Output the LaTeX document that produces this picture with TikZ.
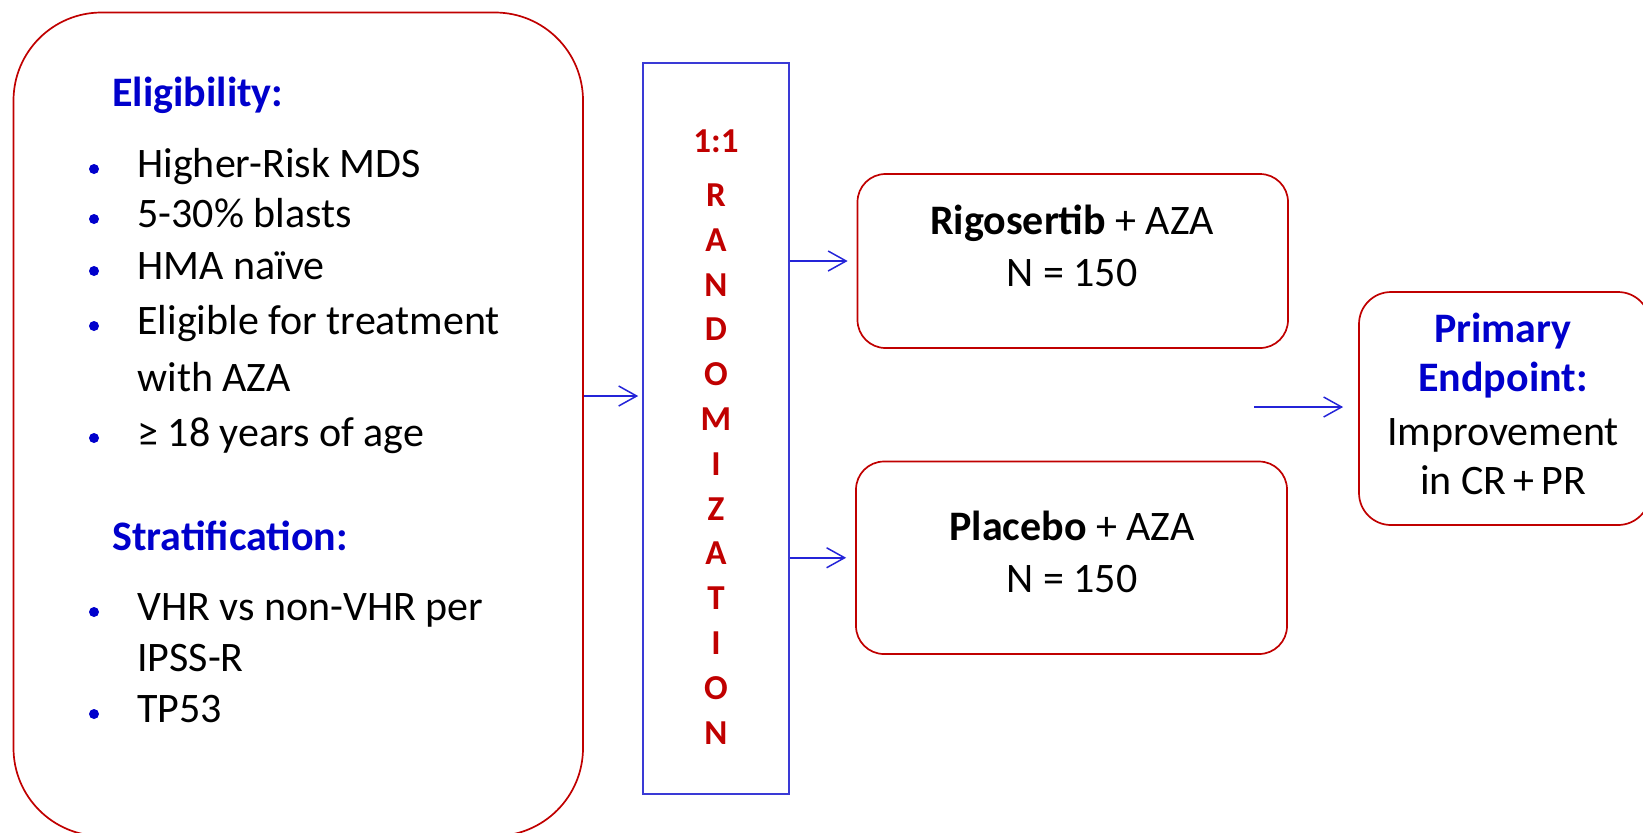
\documentclass[tikz,border=0pt]{standalone}
\usepackage{fontspec}
\setmainfont{Carlito}
\usetikzlibrary{arrows.meta}
\definecolor{boxred}{HTML}{C00000}
\definecolor{headblue}{HTML}{0000CC}
\definecolor{lineblue}{HTML}{2424D8}
\definecolor{randblue}{HTML}{3A3AD6}
\definecolor{letred}{HTML}{C00000}
\begin{document}
\begin{tikzpicture}[x=0.5pt,y=-0.5pt,
  redbox/.style={draw=boxred, line width=0.85pt, rounded corners=#1, inner sep=0pt},
  randbox/.style={draw=randblue, line width=0.8pt, inner sep=0pt},
  flow/.style={draw=lineblue, line width=0.75pt,
    -{Straight Barb[length=9pt,width=10pt,line width=0.75pt]}},
  body/.style={inner sep=0pt, anchor=base west, font=\fontsize{21}{25}\selectfont},
  head/.style={inner sep=0pt, anchor=base west, text=headblue,
    font=\fontsize{21}{25}\selectfont\bfseries},
  cbody/.style={inner sep=0pt, anchor=base, font=\fontsize{21}{25}\selectfont},
  chead/.style={inner sep=0pt, anchor=base, text=headblue,
    font=\fontsize{21}{25}\selectfont\bfseries},
  letter/.style={inner sep=0pt, anchor=base, text=letred,
    font=\fontsize{17.5}{20}\selectfont\bfseries},
  dot/.style={fill=headblue}
]
\useasboundingbox (0,0) rectangle (1643,832);

% ---- boxes ----
\node[redbox=44pt, minimum width=284.75pt, minimum height=411.75pt] (elig) at (298.25,424.25) {};
\node[randbox, minimum width=73pt, minimum height=365.5pt] (rand) at (716,428.5) {};
\node[redbox=14pt, minimum width=215.25pt, minimum height=87pt] (rigo) at (1072.75,261) {};
\node[redbox=14pt, minimum width=215.5pt, minimum height=96.25pt] (plac) at (1071.5,557.75) {};
\node[redbox=16pt, minimum width=145.5pt, minimum height=116.5pt] (endpt) at (1504.5,408.5) {};

% ---- eligibility and stratification lists ----
\node[head] (hElig) at (112,106) {Eligibility:};
\node[body] (e1) at (137,177) {Higher-Risk MDS};
\node[body] (e2) at (137,227) {5-30\% blasts};
\node[body] (e3) at (137,279) {HMA naïve};
\node[body] (e4) at (137,334) {Eligible for treatment};
\node[body] (e4b) at (137,391) {with AZA};
\node[body] (e5) at (137,446) {≥ 18 years of age};
\node[head] (hStrat) at (112,550) {Stratification:};
\node[body] (s1) at (137,620) {VHR vs non-VHR per};
\node[body] (s1b) at (137,671) {IPSS-R};
\node[body] (s2) at (137,722) {TP53};
\foreach \b in {177,227,279,334,446,620,722}
  \fill[dot] (94,\b-8) circle (2.5pt);

% ---- randomization column ----
\node[letter] (ratio) at (716,152) {1:1};
\foreach \ch [count=\k from 0] in {R,A,N,D,O,M,I,Z,A,T,I,O,N}
  \node[letter] (let\k) at (716,{206.5+44.8*\k}) {\ch};

% ---- treatment arms ----
\node[cbody] (rigoA) at (1072,234) {\textbf{Rigosertib} + AZA};
\node[cbody] (rigoN) at (1072,286) {N = 150};
\node[cbody] (placA) at (1072,540) {\textbf{Placebo} + AZA};
\node[cbody] (placN) at (1072,592) {N = 150};

% ---- endpoint ----
\node[chead] (ep1) at (1503,342) {Primary};
\node[chead] (ep2) at (1503,391) {Endpoint:};
\node[cbody] (ep3) at (1503,445) {Improvement};
\node[cbody] (ep4) at (1503,494) {in CR\,+\,PR};

% ---- connectors ----
\coordinate (lefty) at (0,396);
\draw[flow, shorten >=2pt] (elig.east |- lefty) -- (rand.west |- lefty);
\draw[flow, shorten >=4.5pt] (rand.east |- rigo.west) -- (rigo.west);
\draw[flow, shorten >=4.5pt] (rand.east |- plac.west) -- (plac.west);
\coordinate (epstart) at (1254,407);
\draw[flow, shorten >=7.5pt] (epstart) -- (endpt.west |- epstart);
\end{tikzpicture}
\end{document}
